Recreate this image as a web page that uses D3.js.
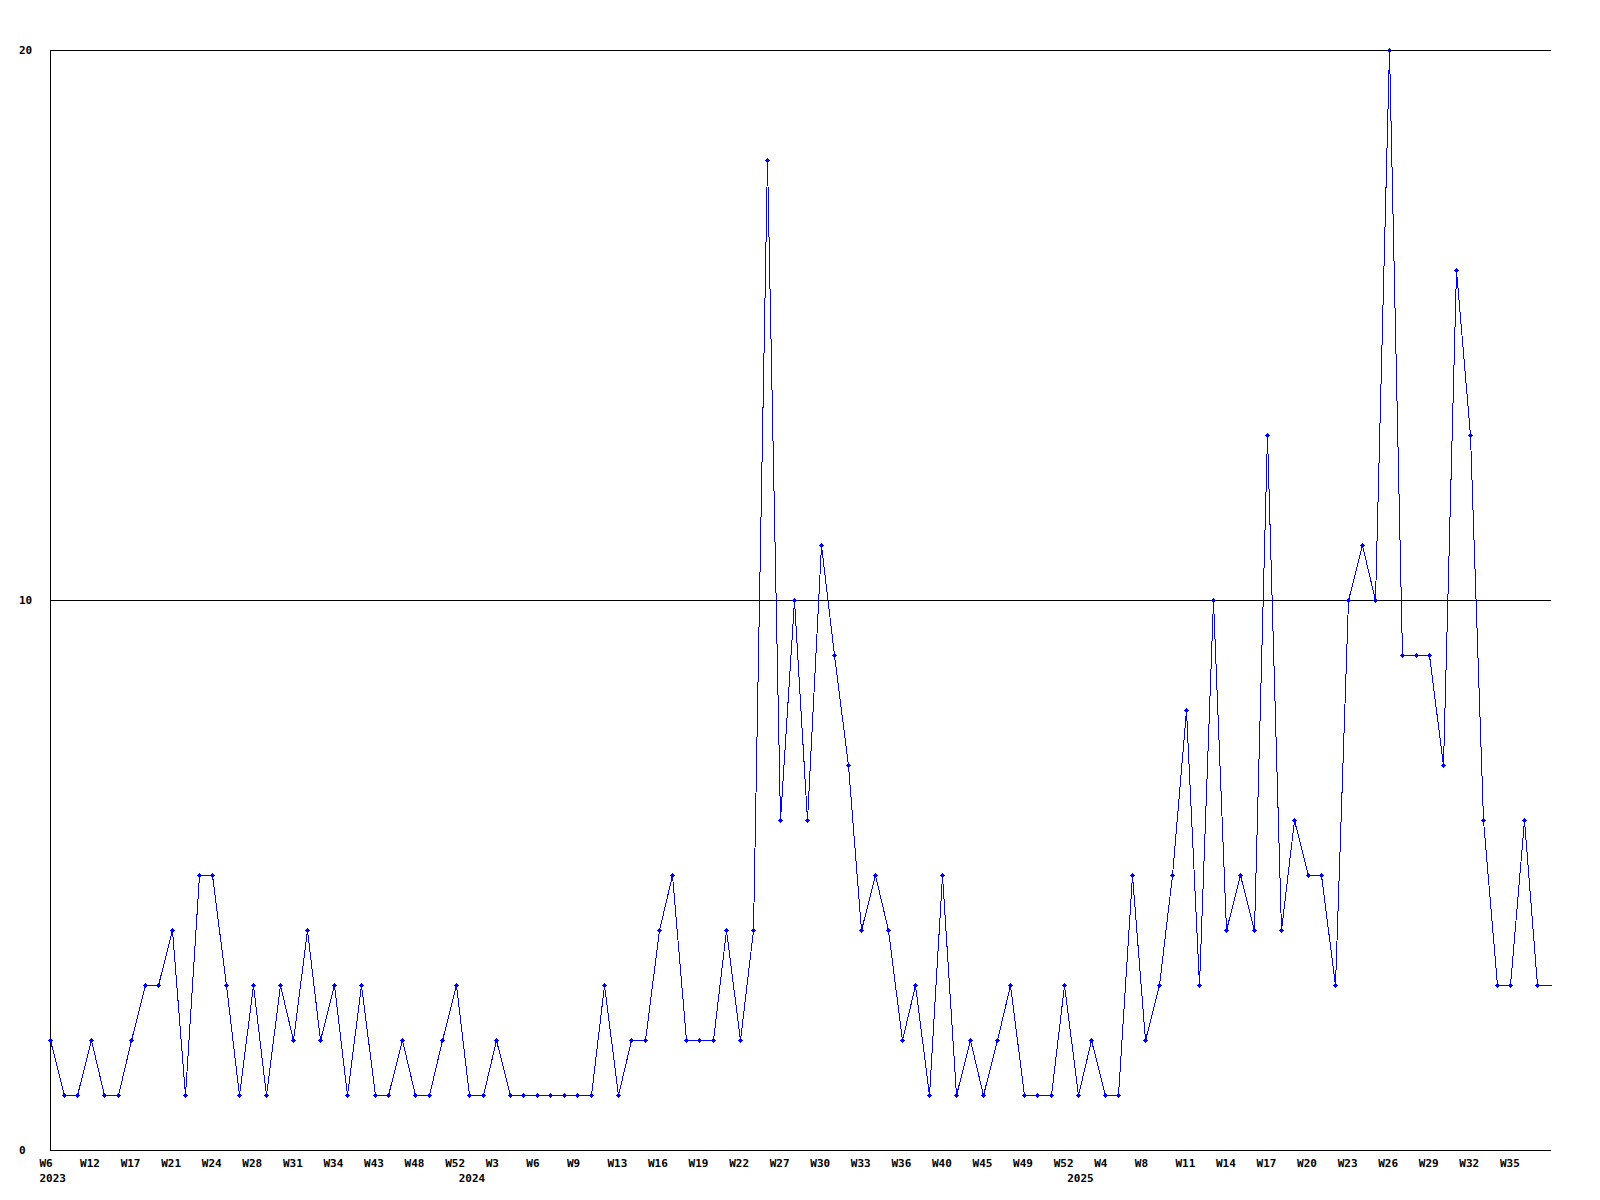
<!DOCTYPE html>
<html>
<head>
<meta charset="utf-8">
<script src="https://cdn.jsdelivr.net/npm/d3@7"></script>
<style>
  html, body { margin: 0; padding: 0; background: #fff; }
  svg text { font-family: "DejaVu Sans Mono", monospace; font-weight: bold; font-size: 11px; fill: #000; }
</style>
</head>
<body>
<svg id="chart" width="1600" height="1200"></svg>
<script>
// Weekly counts, one entry per plotted week (weeks without data are skipped)
const values = [
  2,1,1,2,1,1,2,3,3,4,
  1,5,5,3,1,3,1,3,2,4,
  2,3,1,3,1,1,2,1,1,2,
  3,1,1,2,1,1,1,1,1,1,
  1,3,1,2,2,4,5,2,2,2,
  4,2,4,18,6,10,6,11,9,7,
  4,5,4,2,3,1,5,1,2,1,
  2,3,1,1,1,3,1,2,1,1,
  5,2,3,5,8,3,10,4,5,4,
  13,4,6,5,5,3,10,11,10,20,
  9,9,9,7,16,13,6,3,3,6,
  3,3
];
// Tick labels shown on every third week
const tickLabels = ["W6","W12","W17","W21","W24","W28","W31","W34","W43","W48","W52","W3","W6",
  "W9","W13","W16","W19","W22","W27","W30","W33","W36","W40","W45","W49","W52",
  "W4","W8","W11","W14","W17","W20","W23","W26","W29","W32","W35"];
const tickStep = 3;
// Year labels and the index of the first week of each year
const yearLabels = ["2023","2024","2025"];
const yearStart = [0,31,76];
const yTicks = [0,10,20];

const svg = d3.select("#chart");
const mLeft = 50, mRight = 1551, mTop = 50, mBottom = 1150;

const x = d3.scaleLinear().domain([0, values.length - 1]).range([mLeft, mRight]);
const y = d3.scaleLinear().domain([0, 20]).range([mBottom, mTop]);

// gridlines
svg.append("g").selectAll("line").data(yTicks.filter(d => d > 0)).join("line")
  .attr("x1", mLeft).attr("x2", mRight)
  .attr("y1", d => Math.round(y(d)) + 0.5).attr("y2", d => Math.round(y(d)) + 0.5)
  .attr("stroke", "#000").attr("stroke-width", 1).attr("shape-rendering", "crispEdges");

// axes
svg.append("line").attr("x1", mLeft + 0.5).attr("x2", mLeft + 0.5).attr("y1", mTop).attr("y2", mBottom + 1)
  .attr("stroke", "#000").attr("shape-rendering", "crispEdges");
svg.append("line").attr("x1", mLeft).attr("x2", mRight).attr("y1", mBottom + 0.5).attr("y2", mBottom + 0.5)
  .attr("stroke", "#000").attr("shape-rendering", "crispEdges");

// y labels
svg.append("g").selectAll("text").data(yTicks).join("text")
  .attr("x", 19).attr("y", d => y(d) + 4).text(d => d);

// x labels
svg.append("g").selectAll("text").data(tickLabels).join("text")
  .attr("x", (d, i) => x(i * tickStep) - 10.5)
  .attr("y", mBottom + 17)
  .text(d => d);

svg.append("g").selectAll("text").data(yearLabels).join("text")
  .attr("x", (d, i) => x(yearStart[i]) - 10.5)
  .attr("y", mBottom + 32)
  .text(d => d);

// line
const line = d3.line().x((d, i) => Math.round(x(i)) + 0.5).y(d => Math.round(y(d)) + 0.5);
svg.append("path").datum(values)
  .attr("d", line)
  .attr("fill", "none").attr("stroke", "#0000ff").attr("stroke-width", 1)
  .attr("shape-rendering", "crispEdges");

// markers (last entry is the running week, drawn without marker)
const markerPath = "M-2,0h5v1h-5z M0,-2h1v5h-1z M-1,-1h3v3h-3z";
svg.append("g").selectAll("path").data(values.slice(0, values.length - 1)).join("path")
  .attr("transform", (d, i) => `translate(${Math.round(x(i))},${Math.round(y(d))})`)
  .attr("d", markerPath)
  .attr("fill", "#0000ff")
  .attr("shape-rendering", "crispEdges");
</script>
</body>
</html>
